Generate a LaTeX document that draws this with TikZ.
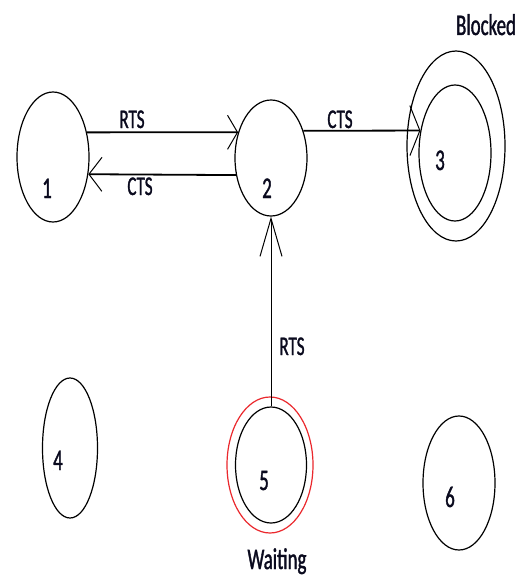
\documentclass[tikz,border=0pt]{standalone}
\usepackage{fontspec}
\newfontfamily\lblfont[FakeStretch=0.63,FakeBold=1.2]{Carlito}
\usetikzlibrary{arrows.meta,shapes.geometric}
\definecolor{waitred}{RGB}{235,40,45}
\definecolor{ink}{RGB}{10,10,30}

\begin{document}
\begin{tikzpicture}[x=1pt,y=-1pt,
  state/.style={draw, ellipse, line width=1.2pt, inner sep=0pt},
  txt/.style={font=\lblfont\fontsize{27}{27}\selectfont, text=ink, anchor=base, inner sep=0pt},
  bigtxt/.style={font=\lblfont\fontsize{30}{30}\selectfont, text=ink, anchor=base, inner sep=0pt},
  link/.style={line width=1.8pt},
  barb/.style 2 args={-{Straight Barb[length=#1pt,width=#2pt,line width=1pt]}}]

  % canvas
  \fill[white] (0,0) rectangle (519,578);
  \path[use as bounding box] (0,0) rectangle (519,578);

  % states
  \node[state, minimum width=72pt, minimum height=130pt] (n1) at (53,157) {};
  \node[state, minimum width=72pt, minimum height=116pt] (n2) at (271,158) {};
  \node[state, minimum width=72pt, minimum height=136pt] (n3) at (455,153) {};
  \node[state, minimum width=98pt, minimum height=190pt] (n3o) at (456,146) {};
  \node[state, minimum width=55pt, minimum height=140pt] (n4) at (70,448) {};
  \node[state, minimum width=71pt, minimum height=116pt] (n5) at (271,465) {};
  \node[state, draw=waitred, minimum width=86pt, minimum height=136pt] (n5o) at (270,465) {};
  \node[state, minimum width=72pt, minimum height=134pt] (n6) at (459,483) {};

  % state numbers
  \node[bigtxt] (t1) at (47,198) {1};
  \node[bigtxt] (t2) at (267,198) {2};
  \node[bigtxt] (t3) at (440,170) {3};
  \node[bigtxt] (t4) at (58,470) {4};
  \node[bigtxt] (t5) at (264,490) {5};
  \node[bigtxt] (t6) at (450,507) {6};

  % status labels
  \node[bigtxt] (blk) at (486,35) {Blocked};
  \node[bigtxt] (wait) at (277,569) {Waiting};

  % transitions
  \draw[link, barb={10}{34}] (n1.36) -- (n2.142);
  \draw[link, barb={13}{34}] (n2.206) -- (n1.-26);
  \draw[link, barb={10}{50}] (n2.40) -- (n3.147);
  \draw[line width=1pt, barb={38}{22}] (n5.north) -- (n2.south);

  % transition labels
  \node[txt] (l12) at (132,128) {RTS};
  \node[txt] (l21) at (140,195) {CTS};
  \node[txt] (l23) at (340,128) {CTS};
  \node[txt] (l52) at (292,355) {RTS};
\end{tikzpicture}
\end{document}
